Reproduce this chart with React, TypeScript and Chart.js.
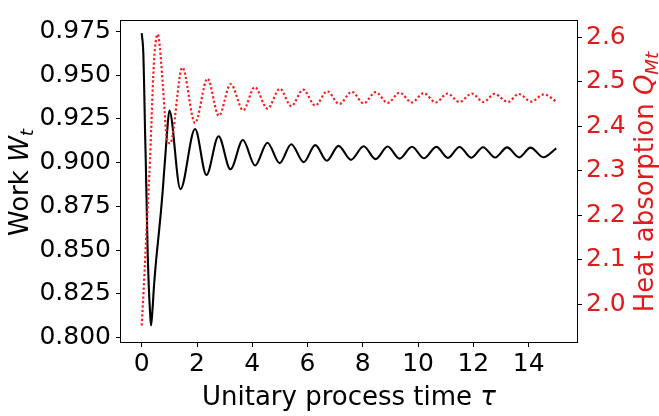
import React, { useEffect, useRef } from 'react';
import { Chart, registerables } from 'chart.js';

Chart.register(...registerables);

// ---- data ----
const workT = [0, 0.06, 0.095, 0.12, 0.145, 0.18, 0.217, 0.264, 0.30, 0.337, 0.385, 0.445, 0.52, 0.60, 0.69, 0.76, 0.81, 0.845, 0.905, 1.0, 1.40, 1.93, 2.34, 2.78, 3.21, 3.66, 4.10, 4.55, 4.99, 5.41, 5.86, 6.28, 6.70, 7.12, 7.57, 8.03, 8.46, 8.90, 9.33, 9.78, 10.21, 10.66, 11.08, 11.50, 11.93, 12.35, 12.79, 13.22, 13.66, 14.07, 14.53, 15.0];
const workV = [0.974, 0.9617, 0.938, 0.918, 0.902, 0.8747, 0.8477, 0.826, 0.815, 0.8069, 0.815, 0.8297, 0.844, 0.8567, 0.8712, 0.884, 0.8948, 0.902, 0.9147, 0.9297, 0.8848, 0.9192, 0.8929, 0.9151, 0.8962, 0.9129, 0.8984, 0.9114, 0.8997, 0.9105, 0.9003, 0.9100, 0.9011, 0.9096, 0.9016, 0.9094, 0.9020, 0.9092, 0.9023, 0.9091, 0.9025, 0.9090, 0.9027, 0.9089, 0.9028, 0.9088, 0.9029, 0.9087, 0.9030, 0.9086, 0.9031, 0.9082];

const heatT = [0, 0.1, 0.2, 0.3, 0.34, 0.42, 0.48, 0.58, 0.66, 0.75, 0.83, 0.9, 1.03, 1.47, 1.93, 2.38, 2.79, 3.22, 3.67, 4.09, 4.55, 5.0, 5.41, 5.84, 6.28, 6.71, 7.15, 7.60, 8.03, 8.46, 8.90, 9.33, 9.77, 10.20, 10.64, 11.06, 11.50, 11.94, 12.37, 12.76, 13.25, 13.64, 14.09, 14.55, 15.0];
const heatV = [1.9524, 2.07, 2.20, 2.326, 2.39, 2.518, 2.576, 2.607, 2.576, 2.504, 2.433, 2.376, 2.362, 2.5325, 2.408, 2.5075, 2.424, 2.4954, 2.4364, 2.4883, 2.440, 2.4847, 2.4456, 2.4826, 2.447, 2.479, 2.4505, 2.478, 2.452, 2.477, 2.453, 2.476, 2.454, 2.475, 2.454, 2.474, 2.455, 2.474, 2.455, 2.473, 2.455, 2.473, 2.456, 2.472, 2.456];

const xTicks = [0, 2, 4, 6, 8, 10, 12, 14];
const workTicks = [0.8, 0.825, 0.85, 0.875, 0.9, 0.925, 0.95, 0.975];
const heatTicks = [2.0, 2.1, 2.2, 2.3, 2.4, 2.5, 2.6];

const FONT = '"DejaVu Sans", sans-serif';
const RED = '#e01b1b';

type Seg = { t: string; i?: boolean; sub?: boolean };

function drawRich(ctx: CanvasRenderingContext2D, segs: Seg[], x: number, y: number, rotate: boolean, size: number, color: string) {
  ctx.save();
  ctx.translate(x, y);
  if (rotate) ctx.rotate(-Math.PI / 2);
  ctx.fillStyle = color;
  ctx.textBaseline = 'alphabetic';
  ctx.textAlign = 'left';
  const fontOf = (s: Seg) => `${s.i ? 'italic ' : ''}${s.sub ? size * 0.7 : size}px ${FONT}`;
  const widths = segs.map((s) => {
    ctx.font = fontOf(s);
    return ctx.measureText(s.t).width;
  });
  const total = widths.reduce((a, b) => a + b, 0);
  let cx = -total / 2;
  segs.forEach((s, k) => {
    ctx.font = fontOf(s);
    ctx.fillText(s.t, cx, s.sub ? size * 0.2 : 0);
    cx += widths[k];
  });
  ctx.restore();
}

const decorPlugin = {
  id: 'decor',
  afterDraw(chart: any) {
    const { ctx, chartArea: a } = chart;
    ctx.save();
    ctx.strokeStyle = '#000';
    ctx.lineWidth = 1;
    ctx.strokeRect(a.left - 0.5, a.top + 0.5, a.right - a.left + 1, a.bottom - a.top);
    ctx.restore();
    const cx = (a.left + a.right) / 2;
    const cy = (a.top + a.bottom) / 2;
    drawRich(ctx, [{ t: 'Unitary process time ' }, { t: 'τ', i: true }], cx, 404.5, false, 26, '#000');
    drawRich(ctx, [{ t: 'Work ' }, { t: 'W', i: true }, { t: 't', i: true, sub: true }], 28, cy + 1.5, true, 26, '#000');
    drawRich(ctx, [{ t: 'Heat absorption ' }, { t: 'Q', i: true }, { t: 'Mt', i: true, sub: true }], 652.5, cy + 1, true, 26, RED);
  },
};

export default function App() {
  const ref = useRef<HTMLCanvasElement>(null);
  useEffect(() => {
    document.body.style.margin = '0';
    const tickFont = { family: FONT, size: 25 };
    const chart = new Chart(ref.current!, {
      type: 'line',
      data: {
        datasets: [
          {
            label: 'Heat absorption',
            data: heatT.map((t, k) => ({ x: t, y: heatV[k] })),
            yAxisID: 'yR',
            borderColor: '#ff1a1a',
            borderWidth: 2.2,
            borderDash: [2.2, 2.3],
            borderCapStyle: 'butt',
            pointRadius: 0,
            cubicInterpolationMode: 'monotone',
            fill: false,
            order: 0,
          },
          {
            label: 'Work',
            data: workT.map((t, k) => ({ x: t, y: workV[k] })),
            yAxisID: 'yL',
            borderColor: '#000',
            borderWidth: 2.1,
            pointRadius: 0,
            cubicInterpolationMode: 'monotone',
            fill: false,
            order: 1,
          },
        ],
      },
      options: {
        responsive: false,
        animation: false,
        events: [],
        layout: { padding: { top: 3, left: 0, right: 0, bottom: 0 } },
        plugins: { legend: { display: false }, tooltip: { enabled: false } },
        scales: {
          x: {
            type: 'linear',
            position: 'bottom',
            min: -0.75,
            max: 15.75,
            afterBuildTicks: (s: any) => { s.ticks = xTicks.map((v) => ({ value: v })); },
            afterFit: (s: any) => { s.height = 74; },
            border: { display: false },
            grid: { drawOnChartArea: false, drawTicks: true, tickLength: 5, tickColor: '#000', tickWidth: 1 },
            ticks: { font: tickFont, color: '#000', padding: 2, autoSkip: false, maxRotation: 0, callback: (v: any) => String(v) },
          },
          yL: {
            type: 'linear',
            position: 'left',
            min: 0.7975,
            max: 0.9815,
            afterBuildTicks: (s: any) => { s.ticks = workTicks.map((v) => ({ value: v })); },
            afterFit: (s: any) => { s.width = 121; },
            border: { display: false },
            grid: { drawOnChartArea: false, drawTicks: true, tickLength: 5, tickColor: '#000', tickWidth: 1 },
            ticks: { font: tickFont, color: '#000', padding: 5, autoSkip: false, callback: (v: any) => Number(v).toFixed(3) },
          },
          yR: {
            type: 'linear',
            position: 'right',
            min: 1.9154,
            max: 2.6393,
            afterBuildTicks: (s: any) => { s.ticks = heatTicks.map((v) => ({ value: v })); },
            afterFit: (s: any) => { s.width = 82; },
            border: { display: false },
            grid: { drawOnChartArea: false, drawTicks: true, tickLength: 5, tickColor: '#000', tickWidth: 1 },
            ticks: { font: tickFont, color: RED, padding: 4, autoSkip: false, callback: (v: any) => Number(v).toFixed(1) },
          },
        },
      },
      plugins: [decorPlugin],
    } as any);
    return () => chart.destroy();
  }, []);
  return (
    <canvas
      ref={ref}
      width={659}
      height={416}
      style={{ display: 'block', position: 'absolute', left: 0, top: 0, width: 659, height: 416 }}
    />
  );
}
